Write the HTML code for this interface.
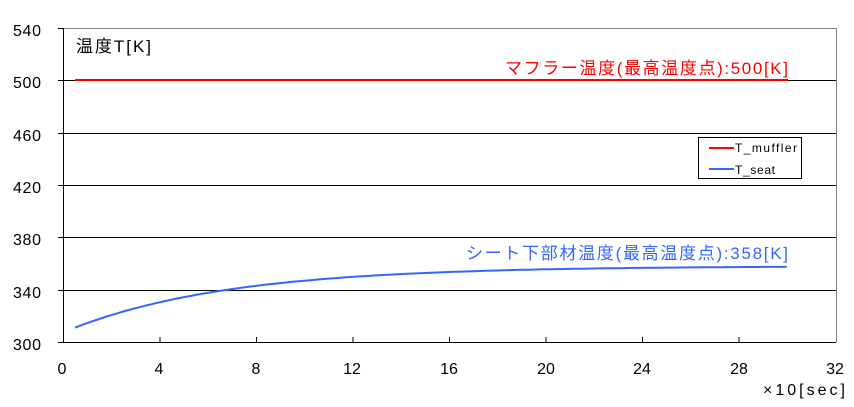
<!DOCTYPE html>
<html><head><meta charset="utf-8"><style>
body{margin:0;background:#fff;}
svg text{font-family:"Liberation Sans","Noto Sans CJK JP",sans-serif;}
</style></head><body>
<svg id="s" width="854" height="402" xmlns="http://www.w3.org/2000/svg">
<rect width="854" height="402" fill="#fff"/>
<line x1="63" y1="28.5" x2="837" y2="28.5" stroke="#808080"/>
<line x1="836.5" y1="28" x2="836.5" y2="342" stroke="#808080"/>
<g stroke="#000" stroke-width="1">
<line x1="63" y1="80.5" x2="836" y2="80.5"/>
<line x1="63" y1="133.5" x2="836" y2="133.5"/>
<line x1="63" y1="185.5" x2="836" y2="185.5"/>
<line x1="63" y1="237.5" x2="836" y2="237.5"/>
<line x1="63" y1="290.5" x2="836" y2="290.5"/>
<line x1="63.5" y1="28" x2="63.5" y2="342"/>
<line x1="63" y1="342.5" x2="836" y2="342.5"/>
<line x1="58" y1="28.5" x2="63" y2="28.5"/>
<line x1="58" y1="80.5" x2="63" y2="80.5"/>
<line x1="58" y1="133.5" x2="63" y2="133.5"/>
<line x1="58" y1="185.5" x2="63" y2="185.5"/>
<line x1="58" y1="237.5" x2="63" y2="237.5"/>
<line x1="58" y1="290.5" x2="63" y2="290.5"/>
<line x1="58" y1="342.5" x2="63" y2="342.5"/>
<line x1="160" y1="337" x2="160" y2="342"/>
<line x1="256.5" y1="337" x2="256.5" y2="342"/>
<line x1="353" y1="337" x2="353" y2="342"/>
<line x1="449.5" y1="337" x2="449.5" y2="342"/>
<line x1="546" y1="337" x2="546" y2="342"/>
<line x1="642.5" y1="337" x2="642.5" y2="342"/>
<line x1="739" y1="337" x2="739" y2="342"/>
</g>
<g font-size="16" fill="#000">
<text x="13" y="36" textLength="28">540</text><text x="13" y="88" textLength="28">500</text><text x="13" y="141" textLength="28">460</text>
<text x="13" y="193" textLength="28">420</text><text x="13" y="245" textLength="28">380</text><text x="13" y="298" textLength="28">340</text><text x="13" y="350" textLength="28">300</text>
</g>
<g font-size="16" fill="#000" text-anchor="middle">
<text x="62" y="374">0</text><text x="159" y="374">4</text><text x="256" y="374">8</text><text x="352" y="374">12</text>
<text x="449" y="374">16</text><text x="546" y="374">20</text><text x="642" y="374">24</text><text x="739" y="374">28</text><text x="835" y="374">32</text>
</g>
<text x="763" y="395" font-size="16" textLength="82">×10[sec]</text>
<text x="76" y="52" font-size="17" textLength="75">温度T[K]</text>
<line x1="75" y1="80" x2="788" y2="80" stroke="#ff0000" stroke-width="2"/>
<text x="505" y="74" font-size="17" fill="#ff0000" textLength="283">マフラー温度(最高温度点):500[K]</text>
<text x="466" y="259" font-size="17" fill="#3366ff" textLength="322">シート下部材温度(最高温度点):358[K]</text>
<path id="blue" fill="none" stroke="#3366ff" stroke-width="2"/>
<rect x="698.5" y="137.5" width="103" height="41" fill="#fff" stroke="#000"/>
<line x1="709" y1="148" x2="734" y2="148" stroke="#ff0000" stroke-width="2"/>
<line x1="709" y1="169" x2="734" y2="169" stroke="#3366ff" stroke-width="2"/>
<text x="735" y="152" font-size="12" textLength="62">T_muffler</text>
<text x="735" y="174" font-size="12" textLength="40">T_seat</text>
</svg>
<script>
var d="";for(var t=0.5;t<=30.001;t+=0.25){var v=358-47*Math.exp(-(t-0.5)/6.6);var x=63+t*24.125;var y=342-(v-300)*52.33/40;d+=(d?"L":"M")+x.toFixed(1)+" "+y.toFixed(1);}
document.getElementById("blue").setAttribute("d",d);
</script>
</body></html>
